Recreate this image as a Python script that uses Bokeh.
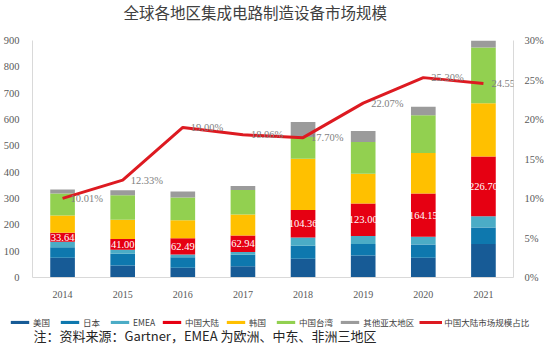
from bokeh.plotting import figure
from bokeh.layouts import column
from bokeh.models import (ColumnDataSource, FactorRange, Range1d, LinearAxis, FixedTicker,
                          PrintfTickFormatter, Legend, LegendItem, LabelSet, Label)
from bokeh.embed import file_html
from bokeh.resources import INLINE

# ---- data ----
years = ["2014", "2015", "2016", "2017", "2018", "2019", "2020", "2021"]
usa = [75, 46, 37, 43, 71, 84, 75, 127]
japan = [40, 44, 40, 43, 50, 43, 50, 63]
emea = [21, 15, 10, 11, 31, 31, 30, 43]
china = [33.64, 41.00, 62.49, 62.94, 104.36, 123.00, 164.15, 226.70]
korea = [66, 73, 68, 79, 195, 113, 154, 202]
taiwan = [83, 93, 86, 93, 82, 121, 143, 212]
other = [16, 19, 23, 16, 57, 41, 32, 49]
share = [10.01, 12.33, 19.00, 18.06, 17.70, 22.07, 25.30, 24.55]

series_names = ["美国", "日本", "EMEA", "中国大陆", "韩国", "中国台湾", "其他亚太地区"]
line_name = "中国大陆市场规模占比"
title_text = "全球各地区集成电路制造设备市场规模"
note_text = "注：资料来源：Gartner，EMEA 为欧洲、中东、非洲三地区"
left_ticks = [0, 100, 200, 300, 400, 500, 600, 700, 800, 900]
right_ticks = [0, 5, 10, 15, 20, 25, 30]

colors = ["#175B96", "#0E78AE", "#4BACC6", "#E60012", "#FFC000", "#92D050", "#9B9B9B"]
line_color = "#DD1A21"
serif = "Liberation Serif"
cjk = "Noto Sans CJK SC"
axis_text = "#595959"
W = 546
keys = ["usa", "japan", "emea", "china", "korea", "taiwan", "other"]

src = ColumnDataSource(dict(year=years, usa=usa, japan=japan, emea=emea, china=china,
                            korea=korea, taiwan=taiwan, other=other, share=share))


def panel(height, x_range, y_range):
    f = figure(width=W, height=height, x_range=x_range, y_range=y_range,
               output_backend="svg", toolbar_location=None, min_border=0,
               x_axis_location=None, y_axis_location=None)
    f.frame_align = False
    f.outline_line_color = None
    f.xgrid.visible = False
    f.ygrid.visible = False
    return f


# ---- header (title) ----
h = panel(22, Range1d(0, 1), Range1d(0, 1))
h.add_layout(Label(x=123, y=11, x_units="screen", y_units="screen", text=title_text,
                   text_font=cjk, text_font_size="15.5px", text_color="#404040",
                   text_baseline="middle"))

# ---- main chart ----
p = figure(x_range=FactorRange(*years, range_padding=0), y_range=Range1d(0, 900),
           width=W, height=278, output_backend="svg", toolbar_location=None,
           min_border_left=27, min_border_right=27, min_border_top=18, min_border_bottom=23)
p.frame_align = False
p.outline_line_color = None
p.xgrid.visible = False
p.ygrid.visible = False
p.extra_y_ranges = {"pct": Range1d(0, 30)}

p.vbar_stack(keys, x="year", width=0.41, source=src, fill_color=colors, line_color=None)
p.line(x="year", y="share", source=src, y_range_name="pct", line_color=line_color, line_width=3)

mid = [u + j + e + c / 2 for u, j, e, c in zip(usa, japan, emea, china)]
lab_src = ColumnDataSource(dict(x=years, y=mid, t=["%.2f" % c for c in china]))
p.add_layout(LabelSet(x="x", y="y", text="t", source=lab_src, text_align="center",
                      text_baseline="middle", text_color="white", text_font=serif,
                      text_font_size="10.5px"))

pct_src = ColumnDataSource(dict(x=years, y=share, t=["%.2f%%" % s for s in share]))
p.add_layout(LabelSet(x="x", y="y", text="t", source=pct_src, y_range_name="pct",
                      x_offset=8, text_align="left", text_baseline="middle",
                      text_color="#7F7F7F", text_font=serif, text_font_size="10.5px"))

ya = p.yaxis[0]
ya.ticker = FixedTicker(ticks=left_ticks)
ry = LinearAxis(y_range_name="pct", ticker=FixedTicker(ticks=right_ticks),
                formatter=PrintfTickFormatter(format="%d%%"))
p.add_layout(ry, "right")
xa = p.xaxis[0]
for ax in (ya, ry, xa):
    ax.axis_line_color = "#D9D9D9"
    ax.major_tick_line_color = None
    ax.minor_tick_line_color = None
    ax.major_label_text_color = axis_text
    ax.major_label_text_font = serif
ya.major_label_text_font_size = "10.5px"
ya.major_label_standoff = 7
ry.major_label_text_font_size = "10.5px"
ry.major_label_standoff = 5
xa.major_label_text_font_size = "10px"
xa.major_label_standoff = 7

# ---- footer (legend + note) ----
# hidden legend proxies built from the same data
q = panel(44, FactorRange(*years, range_padding=0), Range1d(0, 900))
proxies = q.vbar_stack(keys, x="year", width=0.41, source=src, fill_color=colors, line_color=None)
proxies.append(q.line(x="year", y="share", source=src, line_color=line_color, line_width=3))
for r in proxies:
    r.visible = False
items = [LegendItem(label=n, renderers=[r])
         for n, r in zip(series_names + [line_name], proxies)]
legend = Legend(items=items, orientation="horizontal", location=(8, 16),
                glyph_width=23, glyph_height=4, label_text_font=cjk,
                label_text_font_size="8.5px", label_text_color="#404040",
                label_standoff=2, spacing=5, padding=0, margin=0, label_height=10,
                background_fill_alpha=0, border_line_color=None, click_policy="none")
q.add_layout(legend, "center")
q.add_layout(Label(x=33, y=9, x_units="screen", y_units="screen", text=note_text,
                   text_font=cjk, text_font_size="13px", text_color="#262626",
                   text_baseline="middle"))

layout = column(h, p, q, spacing=0)
open("out.html", "w").write(file_html(layout, INLINE))
